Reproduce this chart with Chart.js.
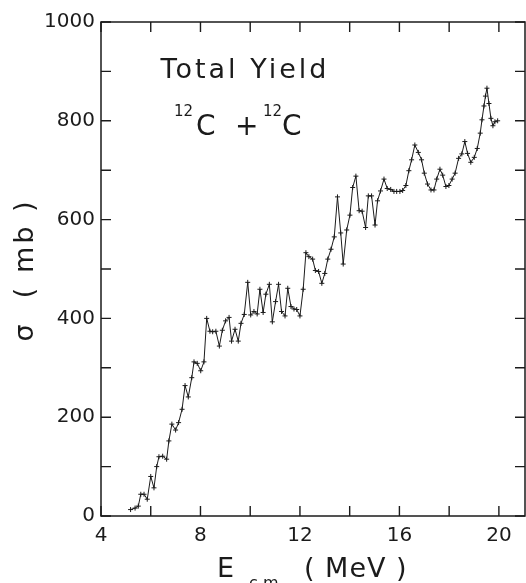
<!DOCTYPE html>
<html>
<head>
<meta charset="utf-8">
<script src="https://cdn.jsdelivr.net/npm/chart.js@4"></script>
<style>
  html, body { margin: 0; background: #fff; }
</style>
</head>
<body>
<canvas id="chart" width="526" height="583"></canvas>
<script>
// E c.m. (MeV) and total yield sigma (mb)
const energy = [5.19, 5.37, 5.5, 5.6, 5.73, 5.86, 6.0, 6.13, 6.24, 6.33, 6.48, 6.64, 6.73, 6.85, 7.0, 7.12, 7.26, 7.38, 7.51, 7.65,
  7.74, 7.87, 8.01, 8.14, 8.25, 8.38, 8.49, 8.62, 8.76, 8.88, 9.01, 9.15, 9.25, 9.39, 9.52, 9.63, 9.76, 9.9, 10.02, 10.15,
  10.28, 10.39, 10.52, 10.63, 10.77, 10.89, 11.02, 11.14, 11.26, 11.4, 11.51, 11.64, 11.76, 11.87, 12.0, 12.13, 12.24, 12.36, 12.51, 12.62,
  12.75, 12.88, 13.0, 13.12, 13.25, 13.38, 13.51, 13.64, 13.74, 13.88, 14.01, 14.12, 14.25, 14.38, 14.5, 14.64, 14.75, 14.88, 15.02, 15.12,
  15.24, 15.38, 15.51, 15.65, 15.78, 15.89, 16.02, 16.13, 16.26, 16.38, 16.49, 16.62, 16.76, 16.89, 17.0, 17.13, 17.27, 17.39, 17.5, 17.63,
  17.74, 17.87, 17.99, 18.12, 18.24, 18.38, 18.51, 18.63, 18.74, 18.87, 19.01, 19.13, 19.25, 19.32, 19.4, 19.46, 19.52, 19.6, 19.68, 19.76,
  19.84, 19.95];
const sigma = [13, 16, 20, 44, 44, 34, 80, 57, 100, 120, 121, 115, 152, 186, 174, 189, 216, 264, 241, 280,
  312, 309, 294, 312, 400, 374, 373, 374, 344, 376, 395, 402, 354, 378, 354, 390, 408, 473, 407, 414,
  409, 459, 412, 449, 469, 393, 434, 469, 414, 405, 461, 424, 419, 418, 405, 459, 533, 525, 520, 497,
  495, 471, 491, 520, 540, 565, 646, 573, 510, 579, 609, 665, 688, 618, 617, 584, 648, 648, 589, 638,
  658, 682, 663, 661, 657, 657, 657, 659, 669, 699, 721, 751, 736, 721, 694, 672, 660, 660, 682, 702,
  690, 667, 669, 682, 694, 724, 733, 758, 734, 716, 726, 744, 775, 802, 830, 850, 866, 835, 805, 790,
  798, 800];

const xLabels = [4, 8, 12, 16, 20];
const yLabels = [0, 200, 400, 600, 800, 1000];

const FONT = 'DejaVu Sans';
const INK = '#1b1b1b';

// box, inward ticks on all four sides, and the lettering
const framePlugin = {
  id: 'frame',
  afterDraw(chart) {
    const { ctx, chartArea: a, scales: { x, y } } = chart;
    const len = 10;
    ctx.save();
    ctx.strokeStyle = INK;
    ctx.lineWidth = 1.5;
    ctx.strokeRect(a.left, a.top, a.right - a.left, a.bottom - a.top);

    ctx.lineWidth = 1.4;
    ctx.beginPath();
    x.ticks.forEach(t => {
      const px = x.getPixelForValue(t.value);
      ctx.moveTo(px, a.bottom); ctx.lineTo(px, a.bottom - len);
      ctx.moveTo(px, a.top); ctx.lineTo(px, a.top + len);
    });
    y.ticks.forEach(t => {
      const py = y.getPixelForValue(t.value);
      ctx.moveTo(a.left, py); ctx.lineTo(a.left + len, py);
      ctx.moveTo(a.right, py); ctx.lineTo(a.right - len, py);
    });
    ctx.stroke();

    ctx.fillStyle = INK;
    ctx.textBaseline = 'alphabetic';

    // annotation
    ctx.textAlign = 'center';
    ctx.font = `27px "${FONT}"`;
    ctx.letterSpacing = '3px';
    ctx.fillText('Total Yield', 245, 78);
    ctx.letterSpacing = '0px';

    ctx.textAlign = 'left';
    ctx.font = `15px "${FONT}"`;
    ctx.fillText('12', 174, 116);
    ctx.fillText('12', 263, 116);
    ctx.font = `28px "${FONT}"`;
    ctx.fillText('C', 196, 135);
    ctx.fillText('C', 282, 135);
    ctx.fillText('+', 235, 135);

    // x title with subscript
    ctx.font = `27px "${FONT}"`;
    ctx.fillText('E', 217, 577);
    ctx.font = `16px "${FONT}"`;
    ctx.fillText('c.m.', 249, 588);
    ctx.font = `27px "${FONT}"`;
    ctx.letterSpacing = '1px';
    ctx.fillText('( MeV )', 304, 577);

    // y title, rotated
    ctx.translate(33, 270);
    ctx.rotate(-Math.PI / 2);
    ctx.textAlign = 'center';
    ctx.letterSpacing = '3px';
    ctx.fillText('\u03c3  ( mb )', 0, 0);
    ctx.restore();
  }
};

new Chart(document.getElementById('chart'), {
  type: 'scatter',
  data: {
    datasets: [{
      data: energy.map((e, i) => ({ x: e, y: sigma[i] })),
      showLine: true,
      borderColor: INK,
      borderWidth: 1,
      pointStyle: 'cross',
      pointRadius: 2.5,
      pointBorderWidth: 1,
      pointBorderColor: INK,
      tension: 0,
    }],
  },
  options: {
    responsive: false,
    animation: false,
    devicePixelRatio: 1,
    layout: { autoPadding: false, padding: { left: 0, top: 22, right: 1, bottom: 0 } },
    plugins: { legend: { display: false }, tooltip: { enabled: false } },
    scales: {
      x: {
        type: 'linear', min: 4, max: 21.05,
        border: { display: false },
        grid: { display: false, drawTicks: false },
        afterBuildTicks: s => {
          const ticks = [];
          for (let v = xLabels[0]; v <= xLabels[xLabels.length - 1]; v += 2) ticks.push({ value: v });
          s.ticks = ticks;
        },
        ticks: {
          autoSkip: false, maxRotation: 0, padding: 8,
          color: INK, font: { family: FONT, size: 20 },
          callback: v => (xLabels.includes(v) ? String(v) : ''),
        },
        afterFit: s => { s.height = 67; },
      },
      y: {
        type: 'linear', min: 0, max: 1000,
        border: { display: false },
        grid: { display: false, drawTicks: false },
        ticks: {
          stepSize: 100, autoSkip: false, padding: 6,
          color: INK, font: { family: FONT, size: 20 },
          callback: v => (yLabels.includes(v) ? String(v) : ''),
        },
        afterFit: s => { s.width = 101; },
      },
    },
  },
  plugins: [framePlugin],
});
</script>
</body>
</html>
